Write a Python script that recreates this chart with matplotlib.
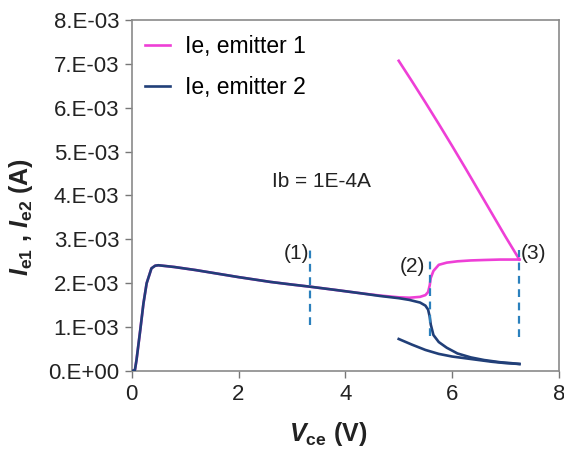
import matplotlib.pyplot as plt

plt.rcParams['font.family'] = ['Liberation Sans', 'DejaVu Sans']
plt.rcParams['mathtext.fontset'] = 'custom'
plt.rcParams['mathtext.rm'] = 'Liberation Sans'
plt.rcParams['mathtext.it'] = 'Liberation Sans:italic'
plt.rcParams['mathtext.bf'] = 'Liberation Sans:bold'
plt.rcParams['mathtext.bfit'] = 'Liberation Sans:italic:bold'

# forward sweep of Vce (V) and emitter currents (A)
vce_fwd = [0, 0.06, 0.09, 0.16, 0.22, 0.28, 0.37, 0.44, 0.5, 0.8, 1.2, 1.6,
           2.0, 2.6, 3.0, 3.35, 3.8, 4.3, 4.65, 5.0, 5.2, 5.4, 5.5, 5.55,
           5.58, 5.6, 5.65, 5.75, 5.9, 6.1, 6.35, 6.6, 6.9, 7.1, 7.26]
ie2_fwd = [0, 0.02e-3, 0.25e-3, 0.93e-3, 1.54e-3, 2.0e-3, 2.34e-3, 2.40e-3,
           2.41e-3, 2.37e-3, 2.30e-3, 2.22e-3, 2.14e-3, 2.03e-3, 1.97e-3,
           1.92e-3, 1.85e-3, 1.77e-3, 1.71e-3, 1.66e-3, 1.62e-3, 1.56e-3,
           1.49e-3, 1.40e-3, 1.24e-3, 1.06e-3, 0.82e-3, 0.66e-3, 0.53e-3,
           0.40e-3, 0.31e-3, 0.25e-3, 0.20e-3, 0.18e-3, 0.16e-3]
ie1_fwd = [0, 0.02e-3, 0.25e-3, 0.93e-3, 1.54e-3, 2.0e-3, 2.34e-3, 2.40e-3,
           2.41e-3, 2.37e-3, 2.30e-3, 2.22e-3, 2.14e-3, 2.03e-3, 1.97e-3,
           1.92e-3, 1.85e-3, 1.77e-3, 1.72e-3, 1.68e-3, 1.67e-3, 1.69e-3,
           1.73e-3, 1.80e-3, 1.95e-3, 2.12e-3, 2.28e-3, 2.42e-3, 2.47e-3,
           2.50e-3, 2.52e-3, 2.53e-3, 2.54e-3, 2.54e-3, 2.54e-3]

# reverse sweep
vce_rev = [7.26, 7.0, 6.75, 6.5, 6.25, 6.0, 5.75, 5.5, 5.25, 5.0]
ie1_rev = [2.54e-3, 3.06e-3, 3.58e-3, 4.10e-3, 4.62e-3, 5.13e-3, 5.63e-3,
           6.12e-3, 6.60e-3, 7.07e-3]
ie2_rev = [0.16e-3, 0.18e-3, 0.21e-3, 0.25e-3, 0.29e-3, 0.33e-3, 0.39e-3,
           0.48e-3, 0.60e-3, 0.73e-3]

# marker lines for operating points (1), (2), (3)
mark_x = [3.34, 5.59, 7.25]
mark_lo = [1.05e-3, 0.80e-3, 0.77e-3]
mark_hi = [2.76e-3, 2.57e-3, 2.76e-3]
mark_lbl = ['(1)', '(2)', '(3)']
lbl_xy = [(3.09, 2.68e-3), (5.26, 2.38e-3), (7.53, 2.68e-3)]

yticks = [0, 1e-3, 2e-3, 3e-3, 4e-3, 5e-3, 6e-3, 7e-3, 8e-3]
ytick_lbl = ['0.E+00', '1.E-03', '2.E-03', '3.E-03', '4.E-03',
             '5.E-03', '6.E-03', '7.E-03', '8.E-03']

pink = '#ee3fd6'
navy = '#213f78'
dash = '#2b80bd'
ink = '#222222'

fig = plt.figure(figsize=(5.64, 4.49), dpi=100)
ax = fig.add_axes([0.2335, 0.1737, 0.7575, 0.7818])

ax.plot(vce_fwd, ie1_fwd, color=pink, lw=1.9, label='Ie, emitter 1', zorder=2)
ax.plot(vce_rev, ie1_rev, color=pink, lw=1.9, zorder=2)
ax.plot(vce_fwd, ie2_fwd, color=navy, lw=1.9, label='Ie, emitter 2', zorder=3)
ax.plot(vce_rev, ie2_rev, color=navy, lw=1.9, zorder=3)

for x, lo, hi in zip(mark_x, mark_lo, mark_hi):
    ax.plot([x, x], [lo, hi], color=dash, lw=1.6, ls=(0, (3.5, 2.5)), zorder=4)
for t, (x, y) in zip(mark_lbl, lbl_xy):
    ax.text(x, y, t, fontsize=15, ha='center', va='center', color=ink)

ax.text(3.56, 4.32e-3, 'Ib = 1E-4A', fontsize=15, ha='center', va='center',
        color=ink)

ax.set_xlim(0, 8)
ax.set_ylim(0, 8e-3)
ax.set_xticks([0, 2, 4, 6, 8])
ax.set_yticks(yticks)
ax.set_yticklabels(ytick_lbl)
ax.tick_params(labelsize=16, colors=ink, length=5, width=1,
               direction='out', pad=4)
ax.tick_params(color='#777777')
for s in ax.spines.values():
    s.set_color('#8a8a8a')
    s.set_linewidth(1.2)

ax.set_xlabel(r'$\mathbfit{V}_{\mathbf{ce}}$ (V)', fontsize=18,
              fontweight='bold', color=ink)
ax.xaxis.set_label_coords(0.459, -0.14)
ax.set_ylabel(r'$\mathbfit{I}_{\mathbf{e1}}$ , $\mathbfit{I}_{\mathbf{e2}}$ (A)',
              fontsize=18, fontweight='bold', color=ink)
ax.yaxis.set_label_coords(-0.226, 0.44)

ax.legend(loc='upper left', bbox_to_anchor=(0.03, 0.956), frameon=False,
          fontsize=16.5, handlelength=1.1, handletextpad=0.65,
          labelspacing=0.76, borderpad=0, borderaxespad=0)

fig.savefig('out.png', dpi=100)
